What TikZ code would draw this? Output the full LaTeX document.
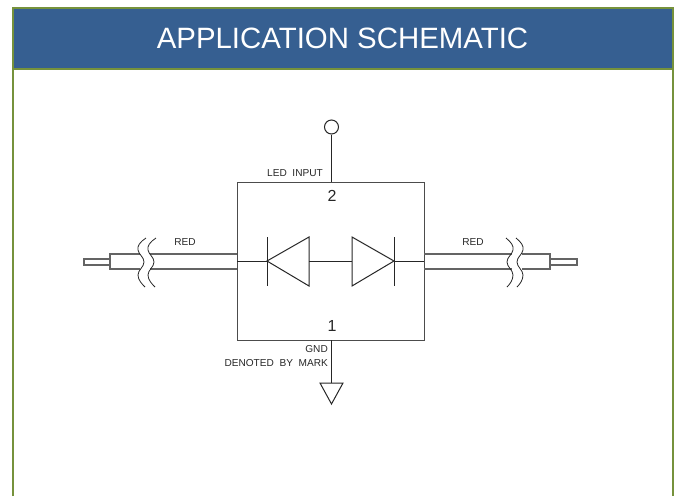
\documentclass[tikz,border=0pt]{standalone}
\usepackage{fontspec}
\setmainfont{Liberation Sans}
\definecolor{borderolive}{RGB}{118,146,60}
\definecolor{headerblue}{RGB}{54,95,145}
\definecolor{cablegray}{RGB}{100,100,100}
\tikzset{
    wire/.style={line width=1pt,black!85},
    cable/.style={line width=1.4pt,cablegray},
    wave/.style={line width=0.8pt,black!85},
    cadlabel/.style={inner sep=0pt,font=\fontsize{10.1}{10}\selectfont,text=black!85},
    pinlabel/.style={inner sep=0pt,font=\fontsize{16}{16}\selectfont,text=black!85}
}
\begin{document}
\begin{tikzpicture}[x=1pt,y=-1pt]
    \useasboundingbox (0,0) rectangle (680,496);
    % frame and title
    \fill[headerblue] (13,8) rectangle (673,69);
    \draw[borderolive,line width=2pt] (13,496) -- (13,8) -- (673,8) -- (673,496);
    \draw[borderolive,line width=2pt] (13,69) -- (673,69);
    \node[text=white,inner sep=0pt,font=\fontsize{29.4}{29.4}\selectfont] (title) at (342.5,38) {APPLICATION SCHEMATIC};

    % package
    \node[draw=black!70,line width=1pt,minimum width=187pt,minimum height=158pt,inner sep=0pt,outer sep=0pt] (box) at (330.5,261) {};
    \node[pinlabel] (pintwo) at (332,196) {2};
    \node[pinlabel] (pinone) at (332,326) {1};

    % input pin
    \node[draw,wire,circle,minimum size=14pt,inner sep=0pt] (input) at (331.5,127) {};
    \draw[wire] (input) -- (input|-box.north);
    \node[cadlabel,anchor=east] (ledinput) at (323,173) {LED\ \ INPUT};

    % ground pin
    \coordinate (gndtop) at (331.5,383);
    \draw[wire] (gndtop|-box.south) -- (gndtop);
    \draw[wire] (320,383) -- (343,383) -- (331.5,404) -- cycle;
    \node[cadlabel,anchor=east] (gnd) at (328,349) {GND};
    \node[cadlabel,anchor=east] (mark) at (328,363) {DENOTED\ \ BY\ \ MARK};

    % diodes
    \coordinate (leftbar) at (267,261);
    \coordinate (leftbase) at (309,261);
    \coordinate (rightbase) at (352,261);
    \coordinate (rightbar) at (394,261);
    \draw[wire] (box.west|-leftbar) -- (leftbar);
    \draw[wire] (leftbase) -- (rightbase);
    \draw[wire] (rightbar) -- (box.east|-rightbar);
    \draw[wire] (267,237) -- (267,286);
    \draw[wire] (394,237) -- (394,286);
    \draw[wire] (leftbar) -- (309,237) -- (309,286) -- cycle;
    \draw[wire] (rightbar) -- (352,237) -- (352,286) -- cycle;

    % cables
    \draw[cable] (box.west|-0,254) -- (150,254);
    \draw[cable] (box.west|-0,269) -- (150,269);
    \draw[cable] (140,254) -- (110,254) -- (110,269) -- (140,269);
    \draw[cable,line width=1.1pt] (110,259) -- (84,259) -- (84,265) -- (110,265);
    \draw[cable] (box.east|-0,254) -- (512,254);
    \draw[cable] (box.east|-0,269) -- (512,269);
    \draw[cable] (522,254) -- (550,254) -- (550,269) -- (522,269);
    \draw[cable,line width=1.1pt] (550,259) -- (577,259) -- (577,265) -- (550,265);

    % cable breaks
    \foreach \i in {0,10}
    {\draw[wave] (146+\i,238) .. controls (140+\i,242) and (137+\i,246) .. (138+\i,250)
        .. controls (139+\i,255) and (144+\i,257) .. (144+\i,262)
        .. controls (144+\i,267) and (138+\i,270) .. (138+\i,275)
        .. controls (138+\i,280) and (142+\i,284) .. (145+\i,287);
    \draw[wave] (506+\i,238) .. controls (511+\i,242) and (514+\i,246) .. (513+\i,250)
        .. controls (512+\i,255) and (507+\i,257) .. (507+\i,262)
        .. controls (507+\i,267) and (513+\i,270) .. (513+\i,275)
        .. controls (513+\i,280) and (510+\i,284) .. (507+\i,287);}
    \node[cadlabel] (redleft) at (185,242) {RED};
    \node[cadlabel] (redright) at (473,242) {RED};
\end{tikzpicture}
\end{document}
